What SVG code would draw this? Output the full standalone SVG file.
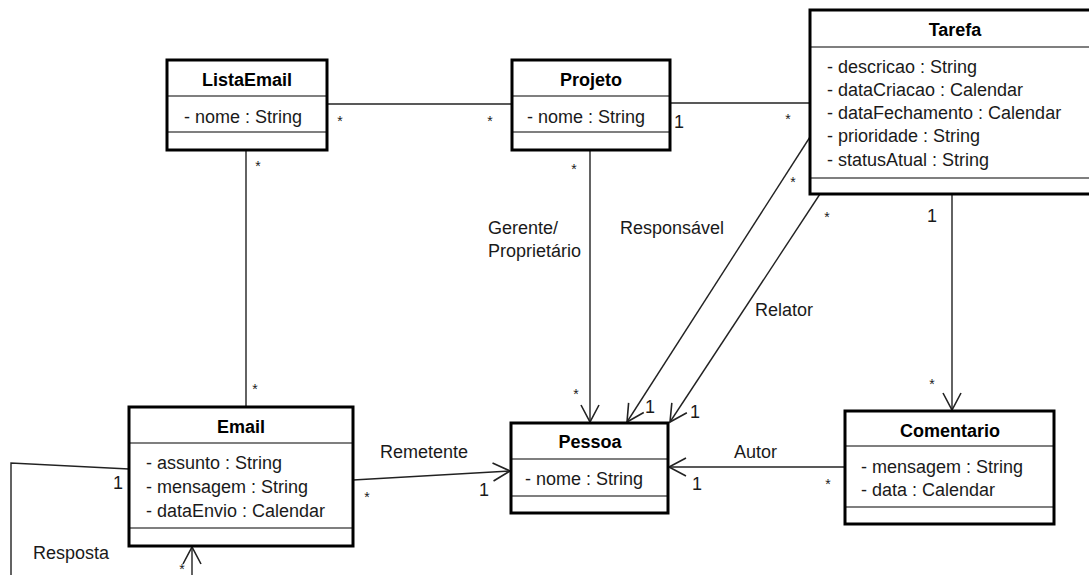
<svg xmlns="http://www.w3.org/2000/svg" width="1089" height="575" viewBox="0 0 1089 575">
  <style>
    .box { fill: #fff; stroke: #000; stroke-width: 3; }
    .sep { stroke: #000; stroke-width: 1.2; }
    .title { font-family: "Liberation Sans", Arial, sans-serif; font-size: 18px; font-weight: bold; text-anchor: middle; fill: #000; }
    .attr { font-family: "Liberation Sans", Arial, sans-serif; font-size: 18px; fill: #1a1a1a; }
    .lbl { font-family: "Liberation Sans", Arial, sans-serif; font-size: 18px; fill: #1a1a1a; }
    .mult { font-family: "Liberation Sans", Arial, sans-serif; font-size: 18px; fill: #1a1a1a; text-anchor: middle; }
    .star { font-family: "Liberation Sans", Arial, sans-serif; font-size: 14px; fill: #1a1a1a; text-anchor: middle; }
    .edge { fill: none; stroke: #222; stroke-width: 1.4; }
    .arrow { marker-end: url(#open); }
  </style>
  <defs>
    <marker id="open" markerUnits="userSpaceOnUse" markerWidth="24" markerHeight="24" viewBox="-20 -12 24 24" refX="0" refY="0" orient="auto">
      <path d="M -17 -9 L 0 0 L -17 9" fill="none" stroke="#222" stroke-width="1.6"/>
    </marker>
  </defs>
  <rect width="1089" height="575" fill="#fff"/>

  <!-- associations -->
  <g id="connectors">
    <line class="edge" x1="327" y1="104" x2="512" y2="104"/>
    <line class="edge" x1="670" y1="103" x2="810" y2="103"/>
    <line class="edge" x1="246" y1="150" x2="246" y2="407"/>
    <line class="edge arrow" x1="590" y1="150" x2="590" y2="422"/>
    <line class="edge arrow" x1="810" y1="137" x2="627" y2="422"/>
    <line class="edge arrow" x1="820" y1="194" x2="670" y2="422"/>
    <line class="edge arrow" x1="952" y1="194" x2="952" y2="410"/>
    <line class="edge arrow" x1="845" y1="467" x2="669" y2="467"/>
    <line class="edge arrow" x1="353" y1="480" x2="510" y2="471"/>
    <polyline class="edge" points="129,469 11,463 11,575"/>
    <line class="edge arrow" x1="192" y1="575" x2="192" y2="547"/>

    <!-- association names -->
    <text class="lbl" x="488" y="234">Gerente/</text>
    <text class="lbl" x="488" y="257">Proprietário</text>
    <text class="lbl" x="620" y="234">Responsável</text>
    <text class="lbl" x="755" y="316">Relator</text>
    <text class="lbl" x="380" y="458">Remetente</text>
    <text class="lbl" x="734" y="458">Autor</text>
    <text class="lbl" x="33" y="559">Resposta</text>

    <!-- multiplicities -->
    <text class="star" x="340" y="126">*</text>
    <text class="star" x="490" y="126">*</text>
    <text class="mult" x="679" y="128">1</text>
    <text class="star" x="788" y="124">*</text>
    <text class="star" x="258" y="171">*</text>
    <text class="star" x="255" y="394">*</text>
    <text class="star" x="574" y="174">*</text>
    <text class="star" x="576" y="399">*</text>
    <text class="star" x="793" y="187">*</text>
    <text class="star" x="827" y="222">*</text>
    <text class="mult" x="650" y="413">1</text>
    <text class="mult" x="695" y="418">1</text>
    <text class="mult" x="932" y="222">1</text>
    <text class="star" x="932" y="389">*</text>
    <text class="star" x="367" y="502">*</text>
    <text class="mult" x="484" y="496">1</text>
    <text class="mult" x="697" y="490">1</text>
    <text class="star" x="828" y="489">*</text>
    <text class="mult" x="118" y="489">1</text>
    <text class="star" x="182" y="574">*</text>
  </g>

  <g id="ListaEmail">
    <rect class="box" x="167" y="60" width="160" height="90"/>
    <line class="sep" x1="167" y1="96" x2="327" y2="96"/>
    <line class="sep" x1="167" y1="132" x2="327" y2="132"/>
    <text class="title" x="247" y="86">ListaEmail</text>
    <text class="attr" x="184" y="123">- nome : String</text>
  </g>

  <g id="Projeto">
    <rect class="box" x="512" y="60" width="158" height="90"/>
    <line class="sep" x1="512" y1="96" x2="670" y2="96"/>
    <line class="sep" x1="512" y1="132" x2="670" y2="132"/>
    <text class="title" x="591" y="86">Projeto</text>
    <text class="attr" x="527" y="123">- nome : String</text>
  </g>

  <g id="Tarefa">
    <rect class="box" x="810" y="10" width="290" height="184"/>
    <line class="sep" x1="810" y1="47" x2="1100" y2="47"/>
    <line class="sep" x1="810" y1="178" x2="1100" y2="178"/>
    <text class="title" x="955" y="36">Tarefa</text>
    <text class="attr" x="827" y="73">- descricao : String</text>
    <text class="attr" x="827" y="96">- dataCriacao : Calendar</text>
    <text class="attr" x="827" y="119">- dataFechamento : Calendar</text>
    <text class="attr" x="827" y="142">- prioridade : String</text>
    <text class="attr" x="827" y="166">- statusAtual : String</text>
  </g>

  <g id="Email">
    <rect class="box" x="129" y="407" width="224" height="139"/>
    <line class="sep" x1="129" y1="443" x2="353" y2="443"/>
    <line class="sep" x1="129" y1="528" x2="353" y2="528"/>
    <text class="title" x="241" y="433">Email</text>
    <text class="attr" x="146" y="469">- assunto : String</text>
    <text class="attr" x="146" y="493">- mensagem : String</text>
    <text class="attr" x="146" y="517">- dataEnvio : Calendar</text>
  </g>

  <g id="Pessoa">
    <rect class="box" x="511" y="423" width="157" height="90"/>
    <line class="sep" x1="511" y1="459" x2="668" y2="459"/>
    <line class="sep" x1="511" y1="496" x2="668" y2="496"/>
    <text class="title" x="590" y="448">Pessoa</text>
    <text class="attr" x="525" y="485">- nome : String</text>
  </g>

  <g id="Comentario">
    <rect class="box" x="845" y="411" width="209" height="113"/>
    <line class="sep" x1="845" y1="446" x2="1054" y2="446"/>
    <line class="sep" x1="845" y1="507" x2="1054" y2="507"/>
    <text class="title" x="950" y="437">Comentario</text>
    <text class="attr" x="861" y="473">- mensagem : String</text>
    <text class="attr" x="861" y="496">- data : Calendar</text>
  </g>
</svg>
